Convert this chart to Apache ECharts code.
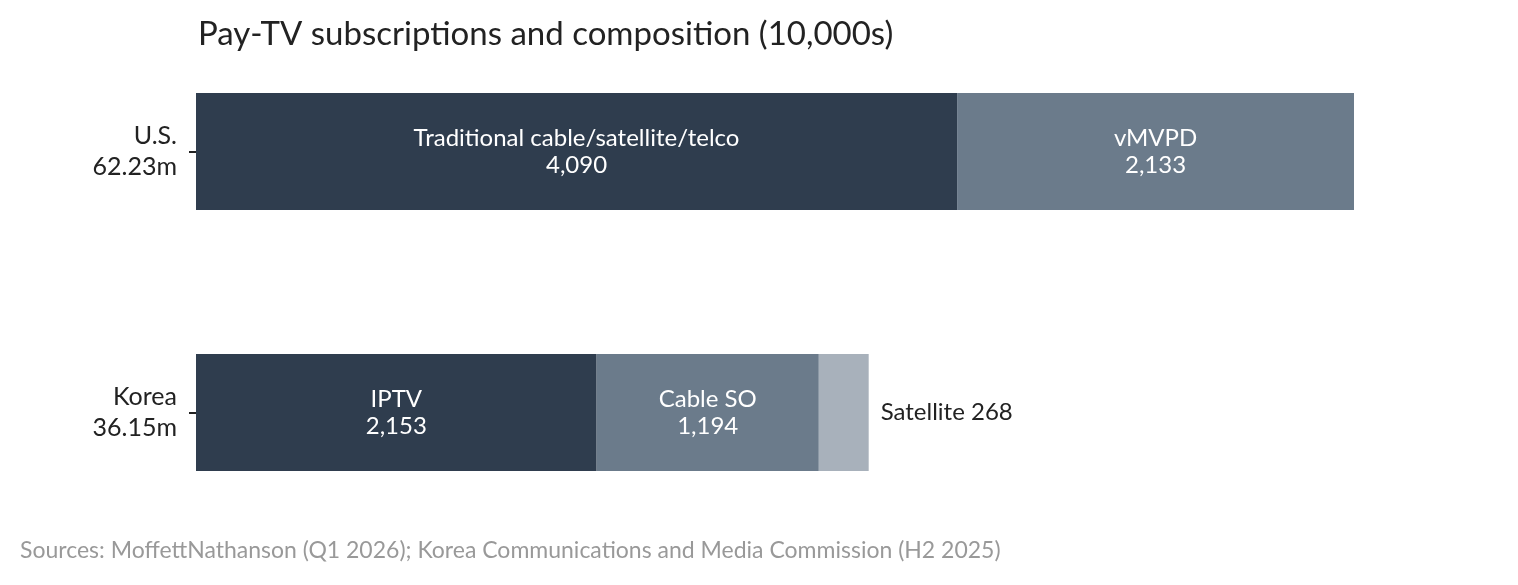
<!DOCTYPE html>
<html>
<head>
<meta charset="utf-8">
<title>Pay-TV subscriptions and composition</title>
<script src="https://cdn.jsdelivr.net/npm/echarts@6/dist/echarts.min.js"></script>
<style>
html,body{margin:0;padding:0;background:#fff;}
#chart{width:1518px;height:585px;}
</style>
</head>
<body>
<div id="chart"></div>
<script>
var fontFamily = 'Lato,"Noto Sans",sans-serif';

// data
var countries = ['U.S.', 'Korea'];
var totals = ['62.23m', '36.15m'];
var usParts = ['Traditional cable/satellite/telco', 'vMVPD'];
var usValues = [4090, 2133];
var koreaParts = ['IPTV', 'Cable SO', 'Satellite'];
var koreaValues = [2153, 1194, 268];
var segColors = ['#2f3d4e', '#6b7b8b', '#a8b1bb'];

function fmt(v) {
    return v.toLocaleString('en-US');
}

var usTotal = usValues.reduce(function (a, b) { return a + b; }, 0);

var series = [];
for (var i = 0; i < koreaValues.length; i++) {
    (function (i) {
        var outside = i === 2; // satellite label sits right of the bar
        series.push({
            type: 'bar',
            stack: 'total',
            name: koreaParts[i],
            barWidth: 117,
            itemStyle: {color: segColors[i]},
            label: {
                show: true,
                position: outside ? 'right' : 'inside',
                distance: 12,
                color: outside ? '#222' : '#fff',
                fontFamily: fontFamily,
                fontSize: 24,
                lineHeight: 27,
                align: outside ? 'left' : 'center',
                formatter: function (p) {
                    var parts = p.dataIndex === 0 ? usParts : koreaParts;
                    if (outside) return parts[i] + ' ' + fmt(p.value);
                    return parts[i] + '\n' + fmt(p.value);
                }
            },
            data: [i < usValues.length ? usValues[i] : '-', koreaValues[i]]
        });
    })(i);
}

var chart = echarts.init(document.getElementById('chart'));
chart.setOption({
    animation: false,
    title: {
        text: 'Pay-TV subscriptions and composition (10,000s)',
        left: 193,
        top: 13,
        textStyle: {fontFamily: fontFamily, fontSize: 33, fontWeight: 'normal', color: '#222'}
    },
    graphic: [{
        type: 'text',
        left: 20,
        top: 539,
        style: {
            text: 'Sources: MoffettNathanson (Q1 2026); Korea Communications and Media Commission (H2 2025)',
            fontFamily: fontFamily,
            fontSize: 23,
            fill: '#999'
        }
    }],
    grid: {left: 196, right: 1518 - 1354, top: 21, bottom: 42},
    xAxis: {
        type: 'value',
        min: 0,
        max: usTotal,
        show: false
    },
    yAxis: {
        type: 'category',
        inverse: true,
        data: countries,
        axisLine: {show: false},
        axisTick: {show: true, alignWithLabel: true, length: 7, lineStyle: {color: '#222', width: 2}},
        axisLabel: {
            margin: 19,
            color: '#222',
            fontFamily: fontFamily,
            fontSize: 25,
            lineHeight: 31,
            padding: [10, 0, 0, 0],
            align: 'right',
            formatter: function (value, index) {
                return value + '\n' + totals[index];
            }
        }
    },
    series: series
});
</script>
</body>
</html>
